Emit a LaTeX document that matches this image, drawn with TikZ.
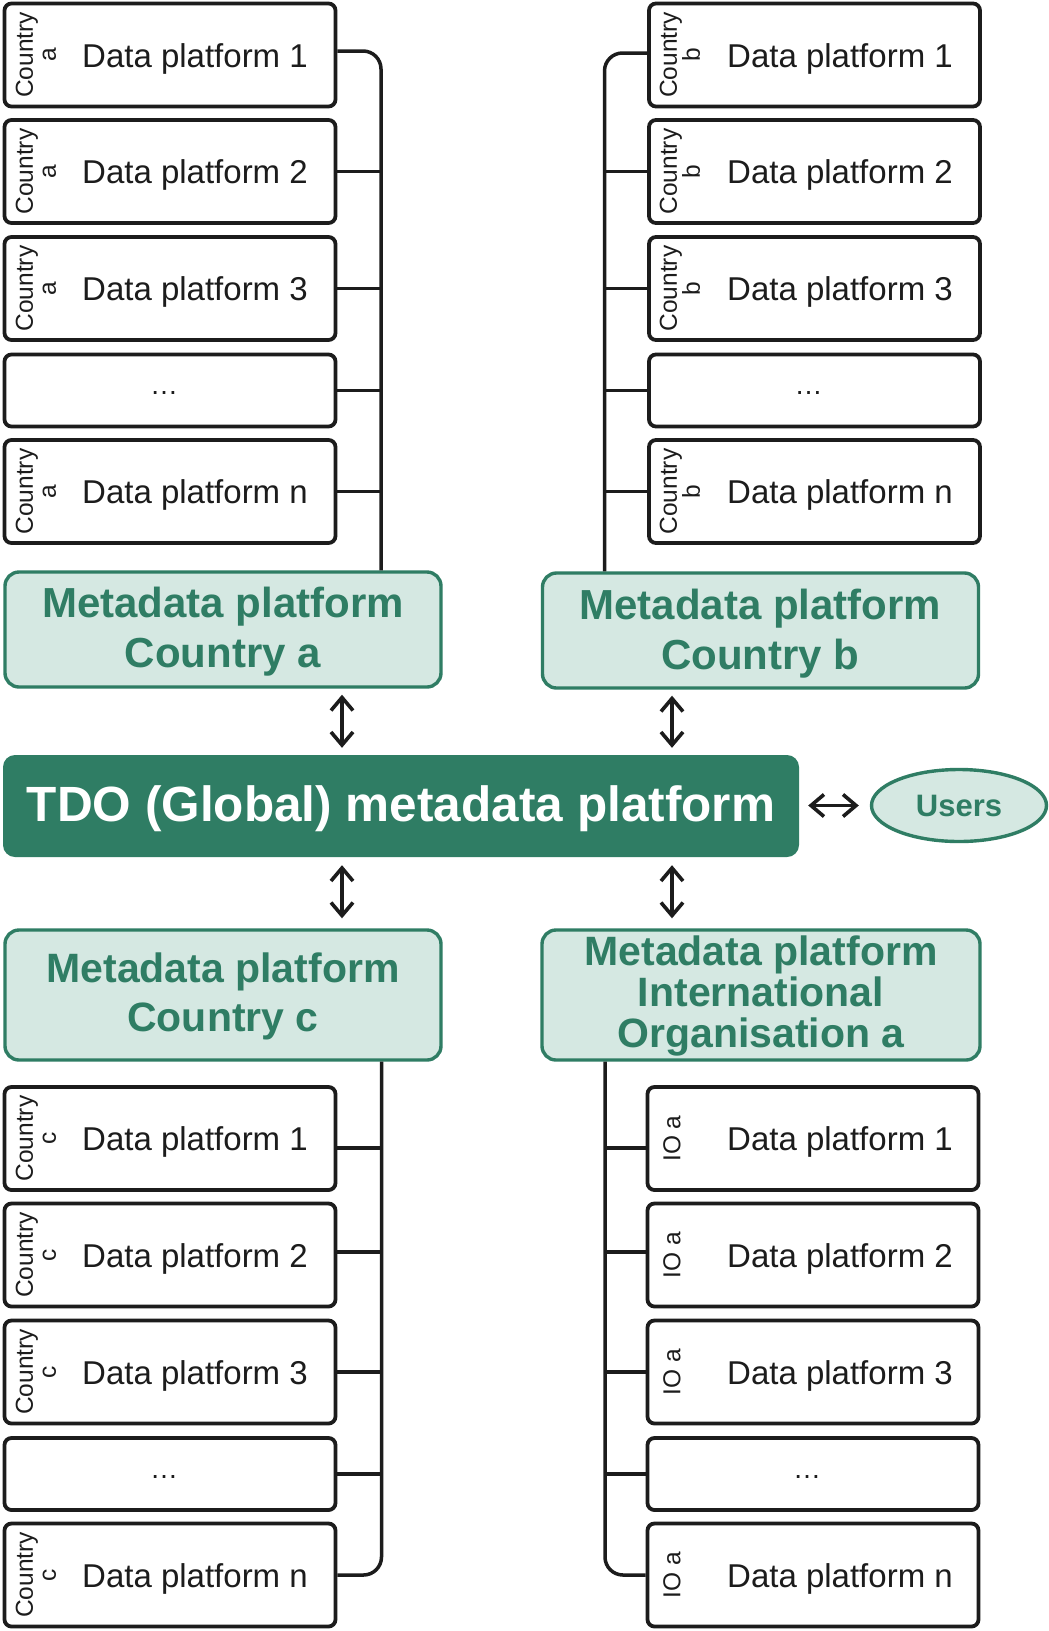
\documentclass[tikz,border=0pt]{standalone}
\usepackage{fontspec}
\setmainfont{Liberation Sans}
\usetikzlibrary{arrows.meta,shapes.geometric}
\definecolor{mgreen}{RGB}{47,125,100}
\definecolor{mlight}{RGB}{213,232,226}
\definecolor{ink}{RGB}{28,28,28}
\newcommand\databox[7]{%
  \node[dbox] (#1) at (#2,#3) {};
  \node[clabel] (#1s) at (#5,#3) {#4};
  \node[dlabel] (#1t) at (#6,#3+12) {#7};}
\newcommand\dotsbox[3]{%
  \node[dotbox] (#1) at (#2,#3) {};
  \node[dotlabel] (#1t) at (#2-6,#3+2.5) {…};}
\begin{document}
\begin{tikzpicture}[x=1pt,y=-1pt,
  dbox/.style={draw=ink, line width=3.8pt, rounded corners=7pt, minimum width=331pt, minimum height=103pt, inner sep=0pt, fill=white},
  dotbox/.style={dbox, minimum height=72pt},
  dlabel/.style={anchor=base west, inner sep=0pt, font=\fontsize{33}{36}\selectfont, text=ink},
  dotlabel/.style={inner sep=0pt, font=\fontsize{28}{30}\selectfont, text=ink},
  clabel/.style={rotate=90, align=center, inner sep=0pt, font=\fontsize{24.5}{23}\selectfont, text=ink},
  mbox/.style={draw=mgreen, fill=mlight, line width=3.4pt, rounded corners=14pt, text=mgreen, align=center, inner sep=0pt, font=\bfseries\fontsize{42}{50}\selectfont},
  conn/.style={draw=ink, line width=3.5pt},
  biarr/.style={draw=ink, line width=3.6pt, {Straight Barb[length=13pt,width=22pt]}-{Straight Barb[length=13pt,width=22pt]}},
]
\fill[white] (0,0) rectangle (1049,1631);
\useasboundingbox (0,0) rectangle (1049,1631);

% coordinates for vertical connector lines
\coordinate (vl) at (381,0);
\coordinate (vr) at (604.5,0);
\coordinate (vlb) at (381.5,0);
\coordinate (vrb) at (605,0);
\coordinate (xl) at (342,0);
\coordinate (xr) at (672,0);

% Country a column
\databox{a1}{170}{55}{Country\\a}{36}{82}{Data platform 1}
\databox{a2}{170}{171.5}{Country\\a}{36}{82}{Data platform 2}
\databox{a3}{170}{288.5}{Country\\a}{36}{82}{Data platform 3}
\dotsbox{ad}{170}{390.5}
\databox{an}{170}{491.5}{Country\\a}{36}{82}{Data platform n}

% Country b column
\databox{b1}{814.5}{55}{Country\\b}{680}{727}{Data platform 1}
\databox{b2}{814.5}{171.5}{Country\\b}{680}{727}{Data platform 2}
\databox{b3}{814.5}{288.5}{Country\\b}{680}{727}{Data platform 3}
\dotsbox{bd}{814.5}{390.5}
\databox{bn}{814.5}{491.5}{Country\\b}{680}{727}{Data platform n}

% Country c column
\databox{c1}{170}{1138.5}{Country\\c}{36}{82}{Data platform 1}
\databox{c2}{170}{1255}{Country\\c}{36}{82}{Data platform 2}
\databox{c3}{170}{1372}{Country\\c}{36}{82}{Data platform 3}
\dotsbox{cd}{170}{1474}
\databox{cn}{170}{1575}{Country\\c}{36}{82}{Data platform n}

% IO a column
\databox{i1}{813}{1138.5}{IO a}{672}{727}{Data platform 1}
\databox{i2}{813}{1255}{IO a}{672}{727}{Data platform 2}
\databox{i3}{813}{1372}{IO a}{672}{727}{Data platform 3}
\dotsbox{id}{813}{1474}
\databox{in}{813}{1575}{IO a}{672}{727}{Data platform n}

% metadata platforms
\node[mbox, minimum width=436pt, minimum height=115pt] (ma) at (223,629.5) {};
\node[mbox, draw=none, fill=none] (mat) at (223,632) {Metadata platform\\Country a};
\node[mbox, minimum width=436pt, minimum height=115pt] (mb) at (760.5,630.5) {};
\node[mbox, draw=none, fill=none] (mbt) at (760.5,634) {Metadata platform\\Country b};
\node[mbox, minimum width=436pt, minimum height=130pt] (mc) at (223,995) {};
\node[mbox, draw=none, fill=none, font=\bfseries\fontsize{41}{49}\selectfont] (mct) at (223,996) {Metadata platform\\Country c};
\node[mbox, minimum width=438pt, minimum height=130pt] (mi) at (761,995) {};
\node[mbox, draw=none, fill=none, font=\bfseries\fontsize{41}{41}\selectfont] (mit) at (761,996) {Metadata platform\\International\\Organisation a};

% global platform and users
\node[fill=mgreen, rounded corners=12pt, minimum width=796pt, minimum height=102pt, inner sep=0pt] (tdo) at (401,806) {};
\node[inner sep=0pt, text=white, font=\bfseries\fontsize{49.5}{55}\selectfont] (tdot) at (401,809) {TDO (Global) metadata platform};
\node[ellipse, draw=mgreen, fill=mlight, line width=3.4pt, minimum width=175pt, minimum height=72pt, inner sep=0pt, text=mgreen, font=\bfseries\fontsize{31}{34}\selectfont] (users) at (959,805.5) {Users};

% connectors, country a
\draw[conn, rounded corners=18pt] ([yshift=4pt]a1.east) -- ([yshift=4pt]a1.east -| vl) -- (ma.north -| vl);
\foreach \n in {a2,a3,ad,an} \draw[conn] (\n.east) -- (\n.east -| vl);
% connectors, country b
\draw[conn, rounded corners=18pt] ([yshift=2pt]b1.west) -- ([yshift=2pt]b1.west -| vr) -- (mb.north -| vr);
\foreach \n in {b2,b3,bd,bn} \draw[conn] (\n.west) -- (\n.west -| vr);
% connectors, country c
\draw[conn, rounded corners=18pt] (mc.south -| vlb) -- (cn.east -| vlb) -- (cn.east);
\draw[conn] ([yshift=-9.5pt]c1.east) -- ([yshift=-9.5pt]c1.east -| vlb);
\draw[conn] ([yshift=3pt]c2.east) -- ([yshift=3pt]c2.east -| vlb);
\foreach \n in {c3,cd} \draw[conn] (\n.east) -- (\n.east -| vlb);
% connectors, IO a
\draw[conn, rounded corners=18pt] (mi.south -| vrb) -- (in.west -| vrb) -- (in.west);
\draw[conn] ([yshift=-9.5pt]i1.west) -- ([yshift=-9.5pt]i1.west -| vrb);
\draw[conn] ([yshift=3pt]i2.west) -- ([yshift=3pt]i2.west -| vrb);
\foreach \n in {i3,id} \draw[conn] (\n.west) -- (\n.west -| vrb);

% bidirectional arrows
\draw[biarr, shorten <=6pt, shorten >=7pt] (ma.south -| xl) -- (tdo.north -| xl);
\draw[biarr, shorten <=6pt, shorten >=7pt] (mb.south -| xr) -- (tdo.north -| xr);
\draw[biarr, shorten <=8pt, shorten >=10pt] (tdo.south -| xl) -- (mc.north -| xl);
\draw[biarr, shorten <=8pt, shorten >=10pt] (tdo.south -| xr) -- (mi.north -| xr);
\draw[biarr, shorten <=9pt, shorten >=11pt] (users.west -| tdo.east) -- (users.west);
\end{tikzpicture}
\end{document}
